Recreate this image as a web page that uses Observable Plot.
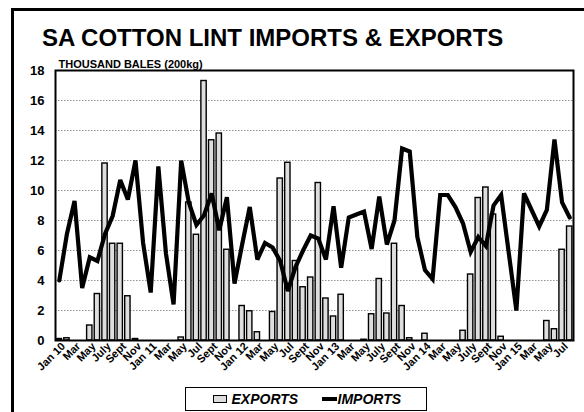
<!DOCTYPE html>
<html><head><meta charset="utf-8">
<script src="https://cdn.jsdelivr.net/npm/d3@7"></script>
<script src="https://cdn.jsdelivr.net/npm/@observablehq/plot@0.6"></script>
<style>
html,body{margin:0;padding:0;background:#fff;}
#wrap{position:relative;width:584px;height:412px;overflow:hidden;font-family:Arial,"Liberation Sans",sans-serif;background:#fff;}
#title{height:58px;box-sizing:border-box;padding-top:26px;padding-left:42px;font-size:24px;line-height:24px;font-weight:bold;white-space:nowrap;color:#000;}
#frame{position:absolute;left:11px;top:8px;width:800px;height:800px;border-left:3px solid #000;border-top:3px solid #000;pointer-events:none;}
#legend{position:absolute;left:185px;top:387px;width:242px;height:24px;box-sizing:border-box;border:1.5px solid #000;background:#fff;}
.lg{position:absolute;font-size:14px;line-height:14px;font-weight:bold;font-style:italic;white-space:nowrap;}
#swE{position:absolute;left:26.5px;top:7px;width:12px;height:6px;background:#ddd;border:1.5px solid #000;}
#swI{position:absolute;left:135.5px;top:9px;width:15px;height:4px;background:#000;}
</style></head>
<body>
<div id="wrap">
  <div id="title">SA COTTON LINT IMPORTS &amp; EXPORTS</div>
  <div id="chart"></div>
  <div id="legend">
    <div id="swE"></div><div class="lg" style="left:45.5px;top:4px;">EXPORTS</div>
    <div id="swI"></div><div class="lg" style="left:151.5px;top:4px;">IMPORTS</div>
  </div>
  <div id="frame"></div>
</div>
<script>
const tickLabels = ["Jan 10","Mar","May","July","Sept","Nov","Jan 11","Mar","May","Jul","Sept","Nov","Jan 12","Mar","May","Jul","Sept","Nov","Jan 13","Mar","May","July","Sept","Nov","Jan 14","Mar","May","July","Sept","Nov","Jan 15","Mar","May","Jul"];
const exportsK = [0.1,0.15,0,0,1.0,3.1,11.8,6.45,6.45,2.95,0.1,0,
  0,0,0,0,0.2,9.2,7.05,17.3,13.35,13.8,6.05,0,
  2.3,1.95,0.55,0,1.9,10.8,11.85,5.3,3.55,4.2,10.5,2.8,
  1.6,3.05,0,0,0.05,1.75,4.1,1.8,6.45,2.3,0.15,0,
  0.45,0,0,0,0,0.65,4.4,9.5,10.2,8.4,0.25,0,
  0,0,0,0,1.3,0.75,6.05,7.6];
const importsK = [4.0,7.1,9.3,3.5,5.55,5.3,7.1,8.3,10.7,9.4,12.0,6.5,
  3.2,11.6,5.8,2.4,12.0,9.2,7.7,8.35,9.8,7.35,9.55,3.8,
  6.4,8.9,5.4,6.5,6.2,5.3,3.3,4.9,6.0,7.0,6.8,5.4,
  8.95,4.85,8.2,8.4,8.6,6.1,9.6,6.4,8.0,12.8,12.6,6.9,
  4.7,4.1,9.7,9.7,8.9,7.8,5.9,6.9,6.3,9.0,9.7,5.85,
  2.0,9.8,8.7,7.6,8.7,13.4,9.2,8.2];
const yTicks = [0,2,4,6,8,10,12,14,16,18];
const yLabel = "THOUSAND BALES (200kg)";

const months = exportsK.map((e, i) => ({i, exp: e, imp: importsK[i]}));
const tickIdx = tickLabels.map((_, k) => k * 2);

const chart = Plot.plot({
  width: 584,
  height: 328,
  marginLeft: 55,
  marginRight: 11,
  marginTop: 12,
  marginBottom: 46,
  style: {fontFamily: 'Arial, "Liberation Sans", sans-serif', background: "none", color: "#000"},
  x: {type: "band", domain: months.map(d => d.i), paddingInner: 0.3, paddingOuter: 0.15, axis: null},
  y: {domain: [0, 18], axis: null},
  marks: [
    Plot.gridY(yTicks.filter(t => t > 0 && t < 18), {stroke: "#777", strokeOpacity: 1, strokeDasharray: "1.5,1.5", strokeWidth: 0.8}),
    Plot.barY(months, {x: "i", y: "exp", fill: "#dedede", stroke: "#000", strokeWidth: 1.4}),
    Plot.lineY(months, {x: "i", y: "imp", stroke: "#000", strokeWidth: 4.2, strokeLinejoin: "miter", strokeMiterlimit: 3}),
    Plot.frame({stroke: "#000", strokeWidth: 2}),
    Plot.axisY(yTicks, {tickSize: 0, tickPadding: 11, fontSize: 13, fontWeight: "bold", label: null}),
    Plot.axisX(tickIdx, {tickSize: 0, tickPadding: 4, dx: 4, tickRotate: -45, textAnchor: "end", fontSize: 11, fontWeight: "bold", tickFormat: (d) => tickLabels[d / 2], label: null}),
    Plot.text([yLabel], {frameAnchor: "top-left", text: d => d, dx: 3, dy: -3, textAnchor: "start", lineAnchor: "bottom", fontSize: 11, fontWeight: "bold"})
  ]
});
document.getElementById("chart").appendChild(chart);
</script>
</body></html>
